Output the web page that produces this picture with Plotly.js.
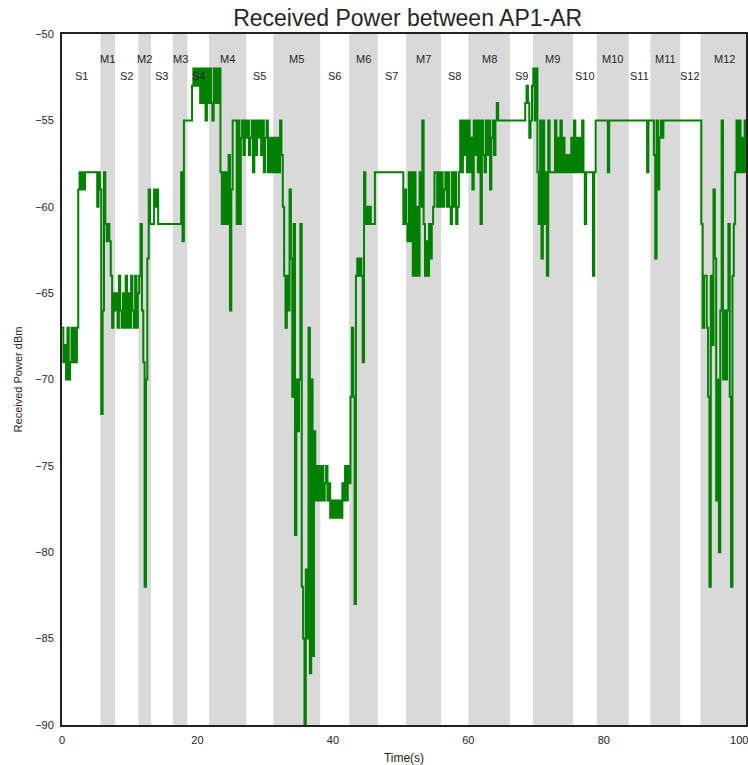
<!DOCTYPE html>
<html>
<head>
<meta charset="utf-8">
<script src="https://cdn.plot.ly/plotly-3.0.1.min.js"></script>
<style>
  html, body { margin: 0; padding: 0; background: #fff; }
  #chart { width: 748px; height: 765px; }
</style>
</head>
<body>
<div id="chart"></div>
<script>
// Received power samples (dBm), logged at 5 Hz; one row per second.
const SAMPLE_PERIOD = 0.2;
const powerDbm = [
  -67, -69, -68, -70, -67,   // 0 s
  -70, -69, -67, -69, -67,
  -69, -67, -59, -58, -59,
  -58, -59, -58, -58, -58,
  -58, -58, -58, -58, -58,
  -58, -60, -58, -59, -72,   // 5 s
  -66, -58, -61, -62, -61,
  -62, -64, -67, -65, -66,
  -65, -67, -64, -66, -67,
  -65, -67, -64, -67, -65,
  -67, -64, -66, -67, -64,   // 10 s
  -67, -65, -64, -61, -66,
  -69, -82, -70, -63, -59,
  -61, -61, -61, -59, -60,
  -59, -61, -61, -61, -61,
  -61, -61, -61, -61, -61,   // 15 s
  -61, -61, -61, -61, -61,
  -61, -61, -61, -58, -62,
  -55, -55, -55, -55, -55,
  -55, -53, -52, -53, -52,
  -53, -52, -54, -52, -54,   // 20 s
  -52, -55, -52, -54, -52,
  -54, -55, -52, -54, -52,
  -54, -52, -58, -61, -58,
  -61, -58, -61, -57, -66,
  -59, -55, -55, -55, -61,   // 25 s
  -55, -61, -56, -55, -57,
  -55, -56, -55, -57, -56,
  -55, -58, -55, -57, -55,
  -56, -55, -57, -55, -58,
  -56, -55, -58, -56, -58,   // 30 s
  -56, -58, -56, -58, -56,
  -58, -55, -57, -60, -64,
  -67, -64, -66, -59, -63,
  -71, -61, -79, -70, -73,
  -70, -61, -82, -85, -90,   // 35 s
  -81, -85, -67, -87, -70,
  -86, -73, -77, -75, -77,
  -75, -77, -75, -77, -76,
  -75, -77, -76, -78, -77,
  -78, -77, -78, -77, -78,   // 40 s
  -77, -78, -76, -77, -75,
  -77, -75, -76, -71, -67,
  -71, -83, -64, -63, -64,
  -63, -64, -69, -58, -61,
  -60, -61, -60, -61, -61,   // 45 s
  -61, -58, -58, -58, -58,
  -58, -58, -58, -58, -58,
  -58, -58, -58, -58, -58,
  -58, -58, -58, -58, -58,
  -58, -58, -61, -59, -61,   // 50 s
  -62, -58, -62, -58, -64,
  -58, -64, -60, -64, -58,
  -60, -55, -61, -64, -62,
  -64, -61, -63, -61, -60,
  -58, -58, -60, -58, -60,   // 55 s
  -58, -60, -59, -58, -60,
  -58, -60, -61, -58, -60,
  -58, -61, -60, -58, -55,
  -58, -55, -57, -55, -58,
  -55, -58, -56, -59, -55,   // 60 s
  -57, -55, -58, -55, -61,
  -55, -57, -58, -55, -57,
  -55, -59, -56, -55, -57,
  -55, -54, -55, -55, -55,
  -55, -55, -55, -55, -55,   // 65 s
  -55, -55, -55, -55, -55,
  -55, -55, -55, -55, -55,
  -55, -55, -54, -53, -54,
  -56, -55, -53, -52, -55,
  -52, -58, -61, -55, -63,   // 70 s
  -55, -61, -58, -64, -55,
  -58, -58, -58, -58, -55,
  -58, -56, -58, -55, -58,
  -56, -58, -57, -58, -57,
  -58, -56, -58, -55, -58,   // 75 s
  -56, -58, -56, -58, -55,
  -58, -61, -58, -58, -58,
  -58, -58, -64, -58, -55,
  -55, -55, -55, -55, -55,
  -55, -55, -55, -58, -55,   // 80 s
  -55, -55, -55, -55, -55,
  -55, -55, -55, -55, -55,
  -55, -55, -55, -55, -55,
  -55, -55, -55, -55, -55,
  -55, -55, -55, -55, -55,   // 85 s
  -55, -55, -58, -55, -55,
  -55, -55, -57, -63, -55,
  -59, -56, -55, -56, -55,
  -55, -55, -55, -55, -55,
  -55, -55, -55, -55, -55,   // 90 s
  -55, -55, -55, -55, -55,
  -55, -55, -55, -55, -55,
  -55, -55, -55, -55, -55,
  -55, -55, -61, -67, -64,
  -64, -67, -71, -82, -64,   // 95 s
  -68, -59, -63, -77, -70,
  -80, -66, -55, -70, -66,
  -70, -66, -61, -71, -82,
  -64, -61, -58, -55, -58,
  -55, -58, -56, -58, -55,   // 100 s
  -58
];
const timeSec = powerDbm.map((_, i) => +(i * SAMPLE_PERIOD).toFixed(1));

// Moving intervals (shaded) and the static intervals between them.
const moveLabels = ['M1', 'M2', 'M3', 'M4', 'M5', 'M6', 'M7', 'M8', 'M9', 'M10', 'M11', 'M12'];
const moveStart  = [5.68, 11.28, 16.35, 21.70, 31.19, 42.40, 50.81, 60.00, 69.54, 78.98, 86.90, 94.27];
const moveEnd    = [7.84, 13.15, 18.51, 27.21, 38.13, 46.63, 55.97, 66.15, 75.44, 83.70, 91.30, 101.33];
const staticLabels = ['S1', 'S2', 'S3', 'S4', 'S5', 'S6', 'S7', 'S8', 'S9', 'S10', 'S11', 'S12'];

const xTicks = [0, 20, 40, 60, 80, 100];
const yTicks = [-50, -55, -60, -65, -70, -75, -80, -85, -90];

const FONT = 'Liberation Sans, Arial, Helvetica, sans-serif';
const TEXT = '#262626';

const shapes = moveStart.map((s, i) => ({
  type: 'rect', xref: 'x', yref: 'paper',
  x0: s, x1: moveEnd[i], y0: 0, y1: 1,
  fillcolor: '#d9d9d9', line: { width: 0 }, layer: 'below'
}));

const annotations = [];
moveLabels.forEach((lab, i) => {
  annotations.push({
    x: (moveStart[i] + moveEnd[i]) / 2, y: -51.45, xref: 'x', yref: 'y',
    text: lab, showarrow: false, font: { family: FONT, size: 11, color: TEXT }
  });
});
staticLabels.forEach((lab, i) => {
  const from = i === 0 ? 0 : moveEnd[i - 1];
  annotations.push({
    x: (from + moveStart[i]) / 2, y: -52.45, xref: 'x', yref: 'y',
    text: lab, showarrow: false, font: { family: FONT, size: 11, color: TEXT }
  });
});

const trace = {
  x: timeSec, y: powerDbm,
  type: 'scatter', mode: 'lines',
  line: { color: '#008000', width: 2, shape: 'hv' },
  hoverinfo: 'skip'
};

const layout = {
  width: 748, height: 765,
  margin: { l: 62, r: 2, t: 34, b: 40 },
  paper_bgcolor: '#ffffff', plot_bgcolor: '#ffffff',
  showlegend: false,
  font: { family: FONT, color: TEXT },
  title: {
    text: 'Received Power between AP1-AR',
    font: { family: FONT, size: 23, color: TEXT },
    x: 0.545, xref: 'container', xanchor: 'center',
    y: 0.977, yref: 'container', yanchor: 'middle'
  },
  xaxis: {
    range: [0, 101], tickvals: xTicks, ticks: '',
    showgrid: false, zeroline: false,
    showline: true, linecolor: '#222', linewidth: 2, mirror: true,
    ticklabeloverflow: 'allow', ticklabelstandoff: 4,
    tickfont: { family: FONT, size: 11, color: TEXT },
    title: { text: 'Time(s)', font: { family: FONT, size: 12, color: TEXT }, standoff: 10 }
  },
  yaxis: {
    range: [-90, -50], tickvals: yTicks, ticks: '',
    showgrid: false, zeroline: false,
    showline: true, linecolor: '#222', linewidth: 2, mirror: true,
    ticklabelstandoff: 4,
    tickfont: { family: FONT, size: 11, color: TEXT },
    title: { text: 'Received Power dBm', font: { family: FONT, size: 11, color: TEXT }, standoff: 10 }
  },
  shapes: shapes,
  annotations: annotations
};

Plotly.newPlot('chart', [trace], layout, { staticPlot: true, displayModeBar: false });
</script>
</body>
</html>
